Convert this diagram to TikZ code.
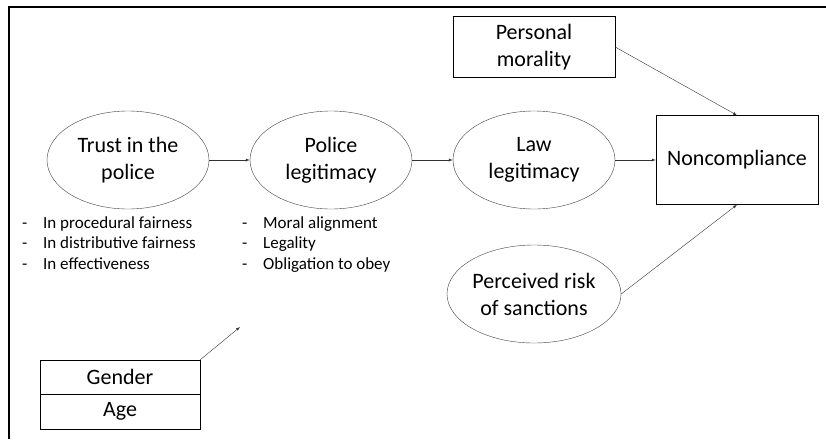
\documentclass[tikz,border=0pt]{standalone}
\usepackage{fontspec}
\setmainfont{Carlito}
\usetikzlibrary{shapes.geometric}
\newcommand{\itm}[1]{\makebox[21pt][l]{-}#1}

\begin{document}
\begin{tikzpicture}[x=1pt,y=1pt,node distance=203pt,auto,>=latex]
			\tikzstyle{latent} = [ellipse, draw=black!75, thin, minimum width=162pt, minimum height=98pt, inner sep=0pt, align=center, font=\fontsize{22}{27}\selectfont];
			\tikzstyle{block} = [rectangle, draw=black, thin, minimum width=162pt, inner sep=0pt, align=center, font=\fontsize{22}{27}\selectfont];
			\tikzstyle{items} = [anchor=north west, inner sep=0pt, align=left, font=\fontsize{17}{20.5}\selectfont];
			\useasboundingbox (0,0) rectangle (826,-439);
			\draw [line width=1.6pt] (9,-439) -- (9,-7) -- (826,-7);
			\draw node [latent] (trust) at (128,-160) {Trust in the\\police};
			\draw node [latent, right of=trust] (polleg){Police\\legitimacy};
			\draw node [latent, right of=polleg] (lawleg){Law\\legitimacy};
			\draw node [block, right of=lawleg, minimum height=89pt] (noncomp){Noncompliance};
			\draw node [block, above of=lawleg, node distance=113pt, minimum height=61pt] (moral){Personal\\morality};
			\draw node [latent, below of=lawleg, node distance=134pt] (risk){Perceived risk\\of sanctions};
			\draw node [items] (trustitems) at (22,-216) {\itm{In procedural fairness}\\\itm{In distributive fairness}\\\itm{In effectiveness}};
			\draw node [items] (politems) at (242,-216) {\itm{Moral alignment}\\\itm{Legality}\\\itm{Obligation to obey}};
			\draw node [block, minimum width=160pt, minimum height=34pt] (gender) at (120,-377) {Gender};
			\draw node [block, below of=gender, node distance=34.5pt, minimum width=160pt, minimum height=35pt, draw=none] (age){Age};
			\draw (gender.south west) -- (age.south west) -- (age.south east) -- (gender.south east);
			\coordinate (ctrl) at (240,-327);
			
			\draw [draw=black!80,->] (trust)--(polleg);
			\draw [draw=black!80,->] (polleg)--(lawleg);
			\draw [draw=black!80,->] (lawleg)--(noncomp);
			\draw [draw=black!80,->] (moral.east)--(noncomp.north);
			\draw [draw=black!80,->] (risk.east)--(noncomp.south);
			\draw [draw=black!80,->] (gender.north east)--(ctrl);
			
		\end{tikzpicture}
\end{document}
